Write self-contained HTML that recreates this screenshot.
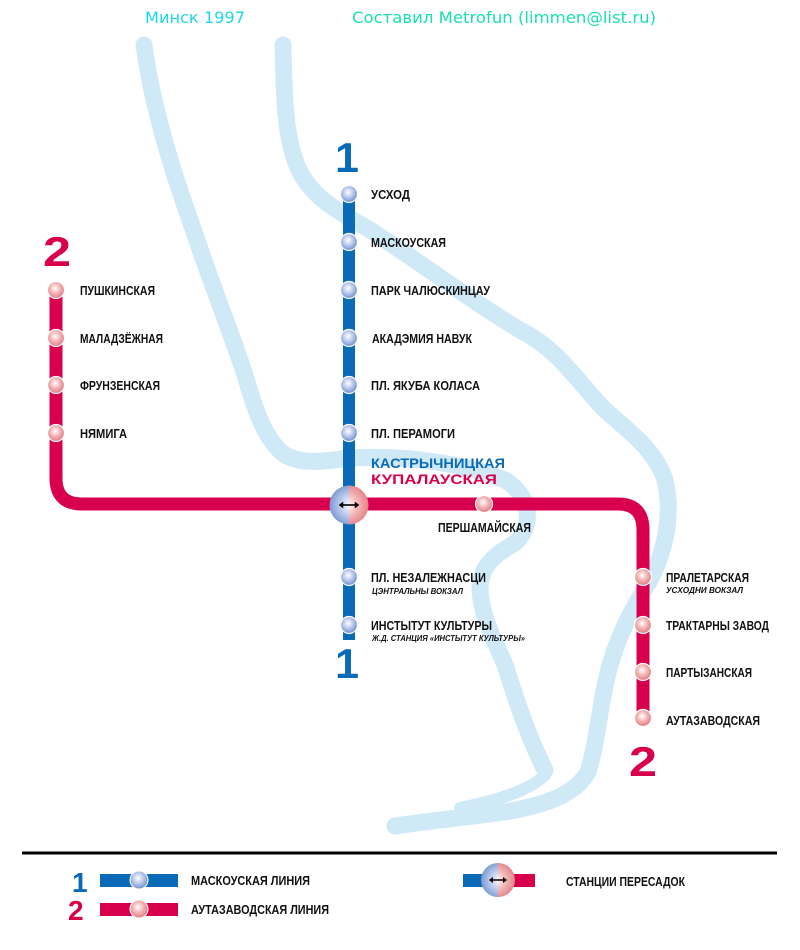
<!DOCTYPE html>
<html><head><meta charset="utf-8"><style>
html,body{margin:0;padding:0;background:#fff;}
svg{display:block;}
.st{font-family:"Liberation Sans",sans-serif;font-size:13px;font-weight:bold;fill:#111;}
.sub{font-family:"Liberation Sans",sans-serif;font-size:8px;font-style:italic;font-weight:bold;fill:#111;}
.num{font-family:"Liberation Sans",sans-serif;font-weight:bold;font-size:42px;}
</style></head><body>
<svg width="800" height="950" viewBox="0 0 800 950" xmlns="http://www.w3.org/2000/svg">
<defs>
<radialGradient id="gb" cx="0.45" cy="0.4" r="0.6">
<stop offset="0" stop-color="#ffffff"/><stop offset="0.5" stop-color="#b8c8ec"/><stop offset="1" stop-color="#6f8fcc"/></radialGradient>
<radialGradient id="gr" cx="0.45" cy="0.4" r="0.6">
<stop offset="0" stop-color="#ffffff"/><stop offset="0.5" stop-color="#f3b4b4"/><stop offset="1" stop-color="#e07a82"/></radialGradient>
<radialGradient id="gbi" cx="0.55" cy="0.5" r="0.6">
<stop offset="0" stop-color="#ffffff"/><stop offset="0.5" stop-color="#b8c8ec"/><stop offset="1" stop-color="#6f8fcc"/></radialGradient>
<radialGradient id="gri" cx="0.45" cy="0.5" r="0.6">
<stop offset="0" stop-color="#ffffff"/><stop offset="0.5" stop-color="#f3b4b4"/><stop offset="1" stop-color="#e07a82"/></radialGradient>
<clipPath id="cl"><rect x="0" y="0" width="349" height="950"/></clipPath>
<clipPath id="cr"><rect x="349" y="0" width="451" height="950"/></clipPath>
<clipPath id="cl2"><rect x="0" y="0" width="498" height="950"/></clipPath>
<clipPath id="cr2"><rect x="498" y="0" width="302" height="950"/></clipPath>
</defs>

<g fill="none" stroke="#cfe9f7" stroke-linecap="round" stroke-linejoin="round">
<path stroke-width="17" d="M144,45 C150,90 165,150 190,220 C210,280 230,330 245,375 C255,410 265,440 285,455 C305,466 330,460 350,458 C400,455 460,462 505,480 C530,495 535,525 515,543 C495,555 480,565 480,590 C482,620 495,640 505,665 C515,695 525,730 545,770"/>
<path stroke-width="17" d="M283,45 C284,90 284,140 300,172 C315,200 340,212 370,230 C420,262 470,300 520,330 C560,350 580,385 605,410 C630,432 655,450 665,480 C672,510 668,545 650,580 C635,605 620,630 610,665 C600,700 598,740 588,772 C575,795 545,805 505,812 C460,818 420,822 395,826"/>
<path stroke-width="12" d="M545,775 C530,790 500,800 460,808"/>
</g>

<text x="145" y="23" font-family="'Comic Sans MS','DejaVu Sans',sans-serif" font-size="16" fill="#1ed8e8" textLength="100" lengthAdjust="spacingAndGlyphs">Минск 1997</text>
<text x="352" y="23" font-family="'Comic Sans MS','DejaVu Sans',sans-serif" font-size="16" fill="#19e0b0" textLength="304" lengthAdjust="spacingAndGlyphs">Составил Metrofun (limmen@list.ru)</text>

<path d="M56,290 L56,478 Q56,504 82,504 L618,504 Q643,504 643,530 L643,718" fill="none" stroke="#d8004c" stroke-width="13"/>
<line x1="349" y1="194" x2="349" y2="640" stroke="#0a6ab8" stroke-width="12"/>

<text class="num" x="335" y="172" fill="#0a6ab8" textLength="24" lengthAdjust="spacingAndGlyphs">1</text>
<text class="num" x="335" y="678" fill="#0a6ab8" textLength="24" lengthAdjust="spacingAndGlyphs">1</text>
<text class="num" x="43" y="266" fill="#d8004c" textLength="28" lengthAdjust="spacingAndGlyphs">2</text>
<text class="num" x="629" y="776" fill="#d8004c" textLength="28" lengthAdjust="spacingAndGlyphs">2</text>

<g stroke="#fff" stroke-width="1.2">
<circle cx="349" cy="194" r="8.5" fill="url(#gb)"/>
<circle cx="349" cy="242" r="8.5" fill="url(#gb)"/>
<circle cx="349" cy="290" r="8.5" fill="url(#gb)"/>
<circle cx="349" cy="338" r="8.5" fill="url(#gb)"/>
<circle cx="349" cy="385" r="8.5" fill="url(#gb)"/>
<circle cx="349" cy="433" r="8.5" fill="url(#gb)"/>
<circle cx="349" cy="577" r="8.5" fill="url(#gb)"/>
<circle cx="349" cy="625" r="8.5" fill="url(#gb)"/>
<circle cx="56" cy="290" r="8.5" fill="url(#gr)"/>
<circle cx="56" cy="338" r="8.5" fill="url(#gr)"/>
<circle cx="56" cy="385" r="8.5" fill="url(#gr)"/>
<circle cx="56" cy="433" r="8.5" fill="url(#gr)"/>
<circle cx="484" cy="504" r="8.5" fill="url(#gr)"/>
<circle cx="643" cy="577" r="8.5" fill="url(#gr)"/>
<circle cx="643" cy="625" r="8.5" fill="url(#gr)"/>
<circle cx="643" cy="672" r="8.5" fill="url(#gr)"/>
<circle cx="643" cy="718" r="8.5" fill="url(#gr)"/>
</g>

<circle cx="349" cy="505" r="19.5" fill="url(#gbi)" clip-path="url(#cl)"/>
<circle cx="349" cy="505" r="19.5" fill="url(#gri)" clip-path="url(#cr)"/>
<g stroke="#000" stroke-width="1.6" fill="#000">
<line x1="341" y1="505" x2="357" y2="505"/>
<path d="M339,505 l4,-3 v6z M359,505 l-4,-3 v6z" stroke-width="0.5"/>
</g>

<text class="st" x="371" y="199" textLength="39" lengthAdjust="spacingAndGlyphs">УСХОД</text>
<text class="st" x="371" y="247" textLength="75" lengthAdjust="spacingAndGlyphs">МАСКОУСКАЯ</text>
<text class="st" x="371" y="295" textLength="119" lengthAdjust="spacingAndGlyphs">ПАРК ЧАЛЮСКИНЦАУ</text>
<text class="st" x="372" y="343" textLength="100" lengthAdjust="spacingAndGlyphs">АКАДЭМИЯ НАВУК</text>
<text class="st" x="371" y="390" textLength="109" lengthAdjust="spacingAndGlyphs">ПЛ. ЯКУБА КОЛАСА</text>
<text class="st" x="371" y="438" textLength="84" lengthAdjust="spacingAndGlyphs">ПЛ. ПЕРАМОГИ</text>
<text x="371" y="468" font-family="'Liberation Sans',sans-serif" font-weight="bold" font-size="14" fill="#0a6ab8" textLength="134" lengthAdjust="spacingAndGlyphs">КАСТРЫЧНИЦКАЯ</text>
<text x="371" y="484" font-family="'Liberation Sans',sans-serif" font-weight="bold" font-size="14" fill="#d8004c" textLength="126" lengthAdjust="spacingAndGlyphs">КУПАЛАУСКАЯ</text>
<text class="st" x="438" y="532" textLength="93" lengthAdjust="spacingAndGlyphs">ПЕРШАМАЙСКАЯ</text>
<text class="st" x="371" y="582" textLength="115" lengthAdjust="spacingAndGlyphs">ПЛ. НЕЗАЛЕЖНАСЦИ</text>
<text class="sub" x="372" y="594" textLength="91" lengthAdjust="spacingAndGlyphs">ЦЭНТРАЛЬНЫ ВОКЗАЛ</text>
<text class="st" x="371" y="630" textLength="121" lengthAdjust="spacingAndGlyphs">ИНСТЫТУТ КУЛЬТУРЫ</text>
<text class="sub" x="372" y="641" textLength="153" lengthAdjust="spacingAndGlyphs">Ж.Д. СТАНЦИЯ «ИНСТЫТУТ КУЛЬТУРЫ»</text>

<text class="st" x="80" y="295" textLength="75" lengthAdjust="spacingAndGlyphs">ПУШКИНСКАЯ</text>
<text class="st" x="80" y="343" textLength="83" lengthAdjust="spacingAndGlyphs">МАЛАДЗЁЖНАЯ</text>
<text class="st" x="80" y="390" textLength="80" lengthAdjust="spacingAndGlyphs">ФРУНЗЕНСКАЯ</text>
<text class="st" x="80" y="438" textLength="47" lengthAdjust="spacingAndGlyphs">НЯМИГА</text>
<text class="st" x="666" y="582" textLength="83" lengthAdjust="spacingAndGlyphs">ПРАЛЕТАРСКАЯ</text>
<text class="sub" x="666" y="593" textLength="77" lengthAdjust="spacingAndGlyphs">УСХОДНИ ВОКЗАЛ</text>
<text class="st" x="666" y="630" textLength="103" lengthAdjust="spacingAndGlyphs">ТРАКТАРНЫ ЗАВОД</text>
<text class="st" x="666" y="677" textLength="86" lengthAdjust="spacingAndGlyphs">ПАРТЫЗАНСКАЯ</text>
<text class="st" x="666" y="725" textLength="94" lengthAdjust="spacingAndGlyphs">АУТАЗАВОДСКАЯ</text>

<line x1="22" y1="853" x2="777" y2="853" stroke="#000" stroke-width="3"/>
<text x="72" y="892" font-family="'Liberation Sans',sans-serif" font-weight="bold" font-size="28" fill="#0a6ab8">1</text>
<text x="68" y="920" font-family="'Liberation Sans',sans-serif" font-weight="bold" font-size="28" fill="#d8004c">2</text>
<rect x="100" y="874" width="78" height="13" fill="#0a6ab8"/>
<circle cx="139" cy="880" r="9" fill="url(#gb)" stroke="#fff"/>
<rect x="100" y="903" width="78" height="13" fill="#d8004c"/>
<circle cx="139" cy="909" r="9" fill="url(#gr)" stroke="#fff"/>
<text class="st" x="191" y="885" textLength="119" lengthAdjust="spacingAndGlyphs">МАСКОУСКАЯ ЛИНИЯ</text>
<text class="st" x="191" y="914" textLength="138" lengthAdjust="spacingAndGlyphs">АУТАЗАВОДСКАЯ ЛИНИЯ</text>
<rect x="463" y="874" width="25" height="13" fill="#0a6ab8"/>
<rect x="510" y="874" width="25" height="13" fill="#d8004c"/>
<circle cx="498" cy="880" r="17" fill="url(#gbi)" clip-path="url(#cl2)"/>
<circle cx="498" cy="880" r="17" fill="url(#gri)" clip-path="url(#cr2)"/>
<line x1="491" y1="880" x2="505" y2="880" stroke="#000" stroke-width="1.5"/>
<path d="M489,880 l4,-3 v6z M507,880 l-4,-3 v6z" fill="#000"/>
<text class="st" x="566" y="886" textLength="119" lengthAdjust="spacingAndGlyphs">СТАНЦИИ ПЕРЕСАДОК</text>
</svg>
</body></html>
